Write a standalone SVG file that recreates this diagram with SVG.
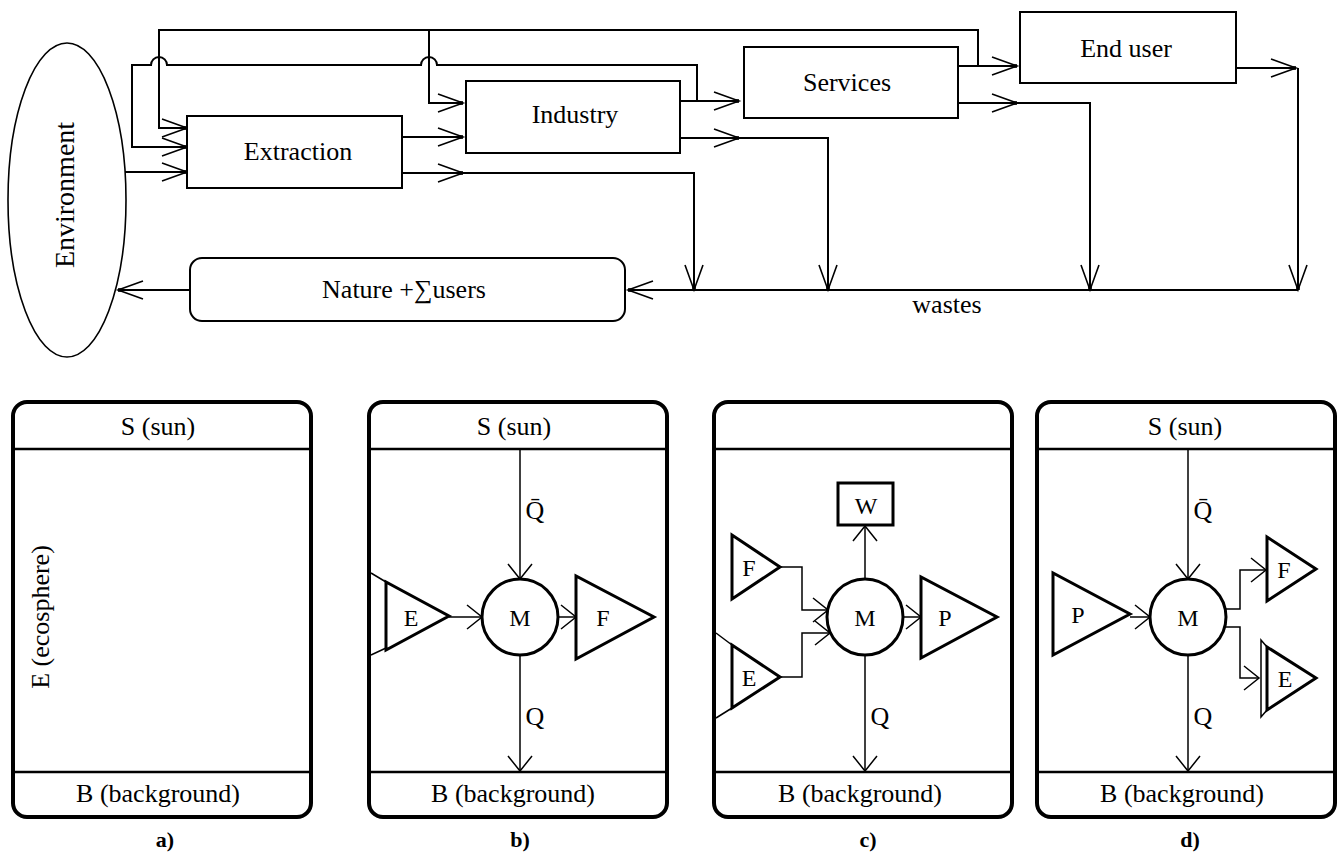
<svg xmlns="http://www.w3.org/2000/svg" width="1342" height="852" viewBox="0 0 1342 852" font-family="'Liberation Serif', 'DejaVu Serif', serif">
<defs>
<style>
text { font-family: "Liberation Serif", "DejaVu Serif", serif; fill: #000; }
.lbl { font-size: 26px; text-anchor: middle; }
.sm { font-size: 24px; text-anchor: middle; }
.cap { font-size: 22px; font-weight: bold; text-anchor: middle; }
.box { fill: #fff; stroke: #000; stroke-width: 2; }
.ln { fill: none; stroke: #000; stroke-width: 2; }
.thin { fill: none; stroke: #000; stroke-width: 1.5; }
.frame { fill: #fff; stroke: #000; stroke-width: 4; }
.sep { stroke: #000; stroke-width: 2.5; }
.tri { fill: #fff; stroke: #000; stroke-width: 3; }
.proc { fill: #fff; stroke: #000; stroke-width: 3; }
.flow { marker-end: url(#ah); }
.pflow { marker-end: url(#ah2); }
</style>
<!-- open arrowhead with a small tip dot (flow diagram) -->
<marker id="ah" markerUnits="userSpaceOnUse" orient="auto" overflow="visible" markerWidth="1" markerHeight="1" refX="0" refY="0">
  <path d="M-25,-9 L0,0 L-25,9" fill="none" stroke="#000" stroke-width="1.6"/>
  <rect x="-3.5" y="-1.8" width="3.5" height="3.6" fill="#000"/>
</marker>
<!-- open arrowhead for the a-d panels -->
<marker id="ah2" markerUnits="userSpaceOnUse" orient="auto" overflow="visible" markerWidth="1" markerHeight="1" refX="0" refY="0">
  <path d="M-15,-12 L0,0 L-15,12" fill="none" stroke="#000" stroke-width="1.5"/>
</marker>
</defs>

<rect width="1342" height="852" fill="#fff"/>

<!-- ===== resource flow diagram ===== -->
<g id="connectors">
  <!-- environment to extraction -->
  <path class="ln flow" d="M125,172 H187"/>
  <!-- feedback from services to extraction and industry -->
  <path class="ln flow" d="M978,66 V30 H159 V128 H187"/>
  <path class="ln flow" d="M429,30 V103 H463"/>
  <!-- feedback from industry to extraction, hopping over crossings -->
  <path class="ln flow" d="M697,101 V65 H437 A8,8 0 0 0 421,65 H167 A8,8 0 0 0 151,65 H132 V147 H187"/>
  <!-- extraction outputs -->
  <path class="ln flow" d="M402,137 H463"/>
  <path class="ln flow" d="M402,173 H463"/>
  <path class="ln flow" d="M463,173 H694 V290"/>
  <!-- industry outputs -->
  <path class="ln flow" d="M680,101 H739"/>
  <path class="ln flow" d="M680,138 H739"/>
  <path class="ln flow" d="M739,138 H828 V290"/>
  <!-- services outputs -->
  <path class="ln flow" d="M958,66 H1017"/>
  <path class="ln flow" d="M958,103 H1017"/>
  <path class="ln flow" d="M1017,103 H1090 V290"/>
  <!-- end user output -->
  <path class="ln flow" d="M1236,68 H1296"/>
  <path class="ln flow" d="M1298,68 V290"/>
  <!-- wastes collector -->
  <path class="ln flow" d="M1298,290 H628"/>
  <path class="ln flow" d="M190,290 H118"/>
</g>

<g id="environment">
  <ellipse cx="67" cy="200" rx="59" ry="157" fill="#fff" stroke="#000" stroke-width="1.6"/>
  <text class="lbl" transform="translate(74,195) rotate(-90)" style="font-size:28px">Environment</text>
</g>
<g id="extraction">
  <rect class="box" x="187" y="116" width="215" height="72"/>
  <text class="lbl" x="298" y="160">Extraction</text>
</g>
<g id="industry">
  <rect class="box" x="466" y="81" width="214" height="72"/>
  <text class="lbl" x="575" y="123">Industry</text>
</g>
<g id="services">
  <rect class="box" x="744" y="47" width="214" height="71"/>
  <text class="lbl" x="847" y="91">Services</text>
</g>
<g id="end-user">
  <rect class="box" x="1020" y="12" width="216" height="71"/>
  <text class="lbl" x="1126" y="57">End user</text>
</g>
<g id="nature">
  <rect class="box" x="190" y="258" width="435" height="63" rx="12"/>
  <text class="lbl" x="404" y="298">Nature +∑users</text>
</g>
<g id="wastes-label">
  <text class="lbl" x="947" y="313">wastes</text>
</g>

<!-- ===== panel a ===== -->
<g id="panel-a">
  <rect class="frame" x="13" y="402" width="298" height="415" rx="14"/>
  <line class="sep" x1="15" y1="449" x2="309" y2="449"/>
  <line class="sep" x1="15" y1="772" x2="309" y2="772"/>
  <text class="lbl" x="158" y="435">S (sun)</text>
  <text class="lbl" x="158" y="802">B (background)</text>
  <text class="lbl" transform="translate(49,617) rotate(-90)">E (ecosphere)</text>
  <text class="cap" x="165" y="847">a)</text>
</g>

<!-- ===== panel b ===== -->
<g id="panel-b">
  <rect class="frame" x="369" y="402" width="298" height="415" rx="14"/>
  <line class="sep" x1="371" y1="449" x2="665" y2="449"/>
  <line class="sep" x1="371" y1="772" x2="665" y2="772"/>
  <text class="lbl" x="514" y="435">S (sun)</text>
  <text class="lbl" x="513" y="802">B (background)</text>
  <g class="connectors-b">
    <path class="thin pflow" d="M520,449 V579"/>
    <path class="thin pflow" d="M520,655 V771"/>
    <path class="thin pflow" d="M449,617 H482"/>
    <path class="thin pflow" d="M558,617 H576"/>
    <path class="thin" d="M371,573 L386,582 M371,655 L386,648"/>
  </g>
  <polygon class="tri" points="386,582 386,650 449,616"/>
  <text class="sm" x="411" y="626">E</text>
  <circle class="proc" cx="520" cy="617" r="38"/>
  <text class="sm" x="520" y="626">M</text>
  <polygon class="tri" points="576,576 576,659 654,617"/>
  <text class="sm" x="603" y="626">F</text>
  <text class="lbl" x="535" y="519">Q&#x304;</text>
  <text class="lbl" x="535" y="725">Q</text>
  <text class="cap" x="520" y="847">b)</text>
</g>

<!-- ===== panel c ===== -->
<g id="panel-c">
  <rect class="frame" x="714" y="402" width="298" height="415" rx="14"/>
  <line class="sep" x1="716" y1="449" x2="1010" y2="449"/>
  <line class="sep" x1="716" y1="772" x2="1010" y2="772"/>
  <text class="lbl" x="860" y="802">B (background)</text>
  <g class="connectors-c">
    <path class="thin pflow" d="M865,579 V526"/>
    <path class="thin pflow" d="M780,567 H802 V610 H828"/>
    <path class="thin pflow" d="M780,677 H802 V633 H830"/>
    <path class="thin pflow" d="M903,617 H921"/>
    <path class="thin pflow" d="M865,655 V771"/>
    <path class="thin" d="M716,633 L732,645 M716,718 L732,708"/>
  </g>
  <rect class="proc" x="838" y="483" width="55" height="42"/>
  <text class="sm" x="866" y="514">W</text>
  <polygon class="tri" points="732,535 732,599 780,567"/>
  <text class="sm" x="749" y="576">F</text>
  <polygon class="tri" points="732,645 732,708 780,677"/>
  <text class="sm" x="749" y="686">E</text>
  <circle class="proc" cx="865" cy="617" r="38"/>
  <text class="sm" x="865" y="626">M</text>
  <polygon class="tri" points="921,577 921,658 997,617"/>
  <text class="sm" x="945" y="626">P</text>
  <text class="lbl" x="880" y="725">Q</text>
  <text class="cap" x="868" y="847">c)</text>
</g>

<!-- ===== panel d ===== -->
<g id="panel-d">
  <rect class="frame" x="1037" y="402" width="298" height="415" rx="14"/>
  <line class="sep" x1="1039" y1="449" x2="1333" y2="449"/>
  <line class="sep" x1="1039" y1="772" x2="1333" y2="772"/>
  <text class="lbl" x="1185" y="435">S (sun)</text>
  <text class="lbl" x="1182" y="802">B (background)</text>
  <g class="connectors-d">
    <path class="thin pflow" d="M1188,449 V579"/>
    <path class="thin pflow" d="M1188,655 V771"/>
    <path class="thin pflow" d="M1130,617 H1150"/>
    <path class="thin pflow" d="M1225,609 H1240 V570 H1266"/>
    <path class="thin pflow" d="M1225,627 H1240 V678 H1259"/>
    <polyline class="thin" points="1267,647 1261,640 1261,717 1267,710"/>
  </g>
  <polygon class="tri" points="1053,573 1053,655 1130,614"/>
  <text class="sm" x="1078" y="623">P</text>
  <circle class="proc" cx="1188" cy="617" r="38"/>
  <text class="sm" x="1188" y="626">M</text>
  <polygon class="tri" points="1267,537 1267,601 1316,569"/>
  <text class="sm" x="1284" y="578">F</text>
  <polygon class="tri" points="1267,647 1267,710 1316,678"/>
  <text class="sm" x="1285" y="687">E</text>
  <text class="lbl" x="1203" y="519">Q&#x304;</text>
  <text class="lbl" x="1203" y="725">Q</text>
  <text class="cap" x="1190" y="847">d)</text>
</g>
</svg>
